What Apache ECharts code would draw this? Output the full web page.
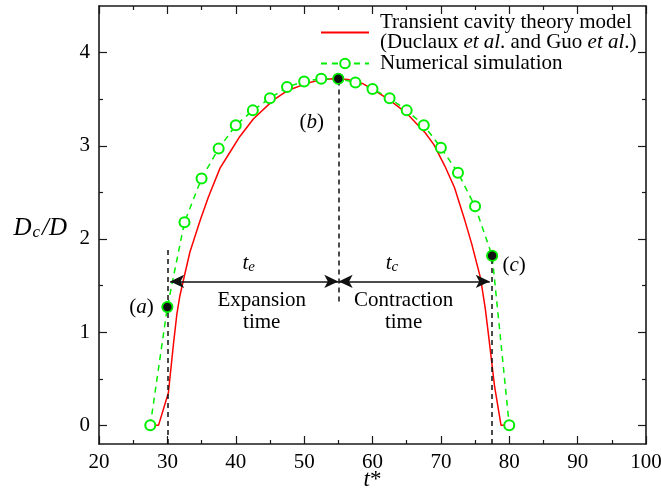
<!DOCTYPE html>
<html>
<head>
<meta charset="utf-8">
<script src="https://cdn.jsdelivr.net/npm/echarts@6/dist/echarts.min.js"></script>
<style>
html, body { margin: 0; padding: 0; background: #fff; }
#chart { width: 661px; height: 500px; }
</style>
</head>
<body>
<div id="chart"></div>
<script>
// numerical simulation (green circles)
var simT = [27.5, 30, 32.5, 35, 37.5, 40, 42.5, 45, 47.5, 50, 52.5, 55, 57.5, 60, 62.5, 65, 67.5, 70, 72.5, 75, 77.5, 80];
var simD = [0, 1.27, 2.18, 2.65, 2.97, 3.22, 3.38, 3.51, 3.63, 3.69, 3.72, 3.72, 3.68, 3.61, 3.51, 3.38, 3.22, 2.98, 2.71, 2.35, 1.82, 0];

// transient cavity theory model (red line)
var modelT = [27.5, 28.7, 30.15, 30.9, 31.4, 31.8, 32.35, 33.3, 34.8, 36, 37.7, 39.4, 40.6, 42.6, 45.5, 47.5, 50.4, 52.5, 54.5,
	56.5, 58.5, 60.2, 62.5, 65, 67.7, 69, 70.6, 72, 73.5, 74.5, 75.8, 76.5, 77, 77.85, 78.8, 80];
var modelD = [0, 0, 0.35, 0.88, 1.2, 1.38, 1.56, 1.86, 2.2, 2.45, 2.76, 2.96, 3.1, 3.29, 3.49, 3.59, 3.67, 3.71, 3.72,
	3.71, 3.67, 3.6, 3.49, 3.35, 3.14, 3.01, 2.78, 2.55, 2.2, 1.95, 1.58, 1.25, 0.95, 0.42, 0, 0];

// highlighted states (a), (b), (c)
var keyT = [30, 55, 77.5];
var keyD = [1.27, 3.72, 1.82];

// y axis ticks
var yMajor = [0, 1, 2, 3, 4];
var yMinor = [0.5, 1.5, 2.5, 3.5];

// dashed guides
var guideT = [30, 55, 77.5];
var guideFrom = [-0.2, 1.33, -0.2];
var guideTo = [1.92, 3.72, 1.92];

// double arrows
var arrowFrom = [30.4, 55.05];
var arrowTo = [55.0, 77.15];
var arrowY = 1.545;

// text notes
var noteT = [26.2, 51.1, 80.7, 41.9, 62.85, 43.8, 64.55];
var noteD = [1.27, 3.25, 1.72, 1.74, 1.74, 1.22, 1.22];
var noteText = ['({i|a})', '({i|b})', '({i|c})', '{i|t}{sub|e}', '{i|t}{sub|c}', 'Expansion\ntime', 'Contraction\ntime'];

var FONT = 'Liberation Serif';
var GREEN = '#00ee00';
var AXIS = '#1a1a1a';
var INK = '#000';

function pairs(xs, ys) {
	var out = [];
	for (var i = 0; i < xs.length; i++) out.push([xs[i], ys[i]]);
	return out;
}

var guideLines = [];
for (var i = 0; i < guideT.length; i++) {
	guideLines.push([{ coord: [guideT[i], guideFrom[i]] }, { coord: [guideT[i], guideTo[i]] }]);
}
var arrowLines = [];
for (var i = 0; i < arrowFrom.length; i++) {
	arrowLines.push([{ coord: [arrowFrom[i], arrowY] }, { coord: [arrowTo[i], arrowY] }]);
}
var notes = [];
for (var i = 0; i < noteT.length; i++) notes.push([noteT[i], noteD[i], noteText[i]]);

var italic = { fontFamily: FONT, fontStyle: 'italic', fontSize: 21, color: INK, textBorderWidth: 0 };
var sub = { fontFamily: FONT, fontStyle: 'italic', fontSize: 15, lineHeight: 14, verticalAlign: 'bottom', color: INK, textBorderWidth: 0 };

function xAxisDef(pos, labels) {
	return {
		type: 'value', min: 20, max: 100, interval: 10, position: pos,
		axisLine: { show: true, onZero: false, lineStyle: { color: AXIS, width: 1.6 } },
		axisTick: { show: true, inside: true, length: 8, lineStyle: { color: AXIS, width: 1.2 } },
		minorTick: { show: true, splitNumber: 2, length: 4, lineStyle: { color: AXIS, width: 1.2 } },
		axisLabel: { show: labels, fontFamily: FONT, fontSize: 21, color: INK, margin: 8 },
		splitLine: { show: false }
	};
}
function yAxisDef(pos, ticks, len, labels, line) {
	return {
		type: 'value', min: -0.2, max: 4.5, position: pos,
		axisLine: { show: line, onZero: false, lineStyle: { color: AXIS, width: 1.6 } },
		axisTick: { show: true, inside: true, length: len, customValues: ticks, lineStyle: { color: AXIS, width: 1.2 } },
		axisLabel: { show: labels, customValues: yMajor, fontFamily: FONT, fontSize: 21, color: INK, margin: 9 },
		splitLine: { show: false }
	};
}

var bottomAxis = xAxisDef('bottom', true);
bottomAxis.name = '{i|t}*';
bottomAxis.nameLocation = 'middle';
bottomAxis.nameGap = 24;
bottomAxis.nameMoveOverlap = false;
bottomAxis.nameTextStyle = { fontFamily: FONT, fontSize: 23, color: INK, rich: { i: { fontFamily: FONT, fontStyle: 'italic', fontSize: 23, color: INK } } };

var leftAxis = yAxisDef('left', yMajor, 8, true, true);
leftAxis.name = '{i|D}{s|c}{i|/D}';
leftAxis.nameLocation = 'middle';
leftAxis.nameRotate = 0;
leftAxis.nameGap = 32;
leftAxis.nameTextStyle = {
	fontFamily: FONT, fontSize: 25, color: INK, padding: [6, 0, 0, 0],
	rich: {
		i: { fontFamily: FONT, fontStyle: 'italic', fontSize: 25, lineHeight: 26, color: INK },
		s: { fontFamily: FONT, fontStyle: 'italic', fontSize: 17, lineHeight: 17, verticalAlign: 'bottom', color: INK, padding: [0, 2, 0, 1] }
	}
};

var chart = echarts.init(document.getElementById('chart'), null, { renderer: 'canvas' });
chart.setOption({
	animation: false,
	backgroundColor: '#fff',
	grid: { left: 99, right: 15, top: 6, bottom: 56, outerBoundsMode: 'none' },
	xAxis: [bottomAxis, xAxisDef('top', false)],
	yAxis: [
		leftAxis,
		yAxisDef('left', yMinor, 4, false, false),
		yAxisDef('right', yMajor, 8, false, true),
		yAxisDef('right', yMinor, 4, false, false)
	],
	legend: {
		orient: 'vertical', left: 315, top: 7, itemGap: 0,
		itemWidth: 48, itemHeight: 12,
		data: [
			{ name: 'Transient cavity theory model', itemStyle: { color: 'rgba(0,0,0,0)', borderWidth: 0 } },
			{ name: 'Numerical simulation' }
		],
		formatter: function (name) {
			if (name === 'Numerical simulation') return name;
			return 'Transient cavity theory model\n(Duclaux {i|et al}. and Guo {i|et al}.)';
		},
		textStyle: {
			fontFamily: FONT, fontSize: 21, lineHeight: 20, color: INK, padding: [0, 0, 0, 6],
			rich: { i: { fontFamily: FONT, fontStyle: 'italic', fontSize: 21, lineHeight: 20, color: INK } }
		}
	},
	series: [
		{
			name: 'Transient cavity theory model', type: 'line',
			data: pairs(modelT, modelD), symbol: 'none',
			lineStyle: { color: '#ff0000', width: 1.5 }, itemStyle: { color: '#ff0000' },
			z: 3
		},
		{
			name: 'Numerical simulation', type: 'line',
			data: pairs(simT, simD), symbol: 'emptyCircle', symbolSize: 10,
			lineStyle: { color: GREEN, width: 1.5, type: [6, 5] },
			itemStyle: { color: GREEN, borderColor: GREEN, borderWidth: 1.5 },
			z: 4
		},
		{
			name: 'key', type: 'scatter', data: pairs(keyT, keyD), symbol: 'circle', symbolSize: 10,
			itemStyle: { color: '#111', borderColor: GREEN, borderWidth: 1.5, opacity: 1 }, z: 6
		},
		{
			name: 'guides', type: 'line', data: [], z: 2,
			markLine: {
				silent: true, symbol: 'none', label: { show: false },
				lineStyle: { color: '#111', width: 1.5, type: [5, 4] },
				data: guideLines
			}
		},
		{
			name: 'arrows', type: 'line', data: [], z: 5,
			markLine: {
				silent: true, symbol: ['arrow', 'arrow'], symbolSize: [10, 14], label: { show: false },
				lineStyle: { color: '#111', width: 1.5, type: 'solid' },
				itemStyle: { color: '#111' },
				data: arrowLines
			}
		},
		{
			name: 'notes', type: 'scatter', data: notes, symbolSize: 0, z: 7, silent: true,
			itemStyle: { color: INK, opacity: 1 },
			label: {
				show: true, position: 'inside', opacity: 1,
				formatter: function (p) { return p.data[2]; },
				fontFamily: FONT, fontSize: 21, lineHeight: 22, color: INK,
				textBorderWidth: 0, textBorderColor: 'transparent',
				rich: { i: italic, sub: sub }
			}
		}
	]
});
</script>
</body>
</html>
